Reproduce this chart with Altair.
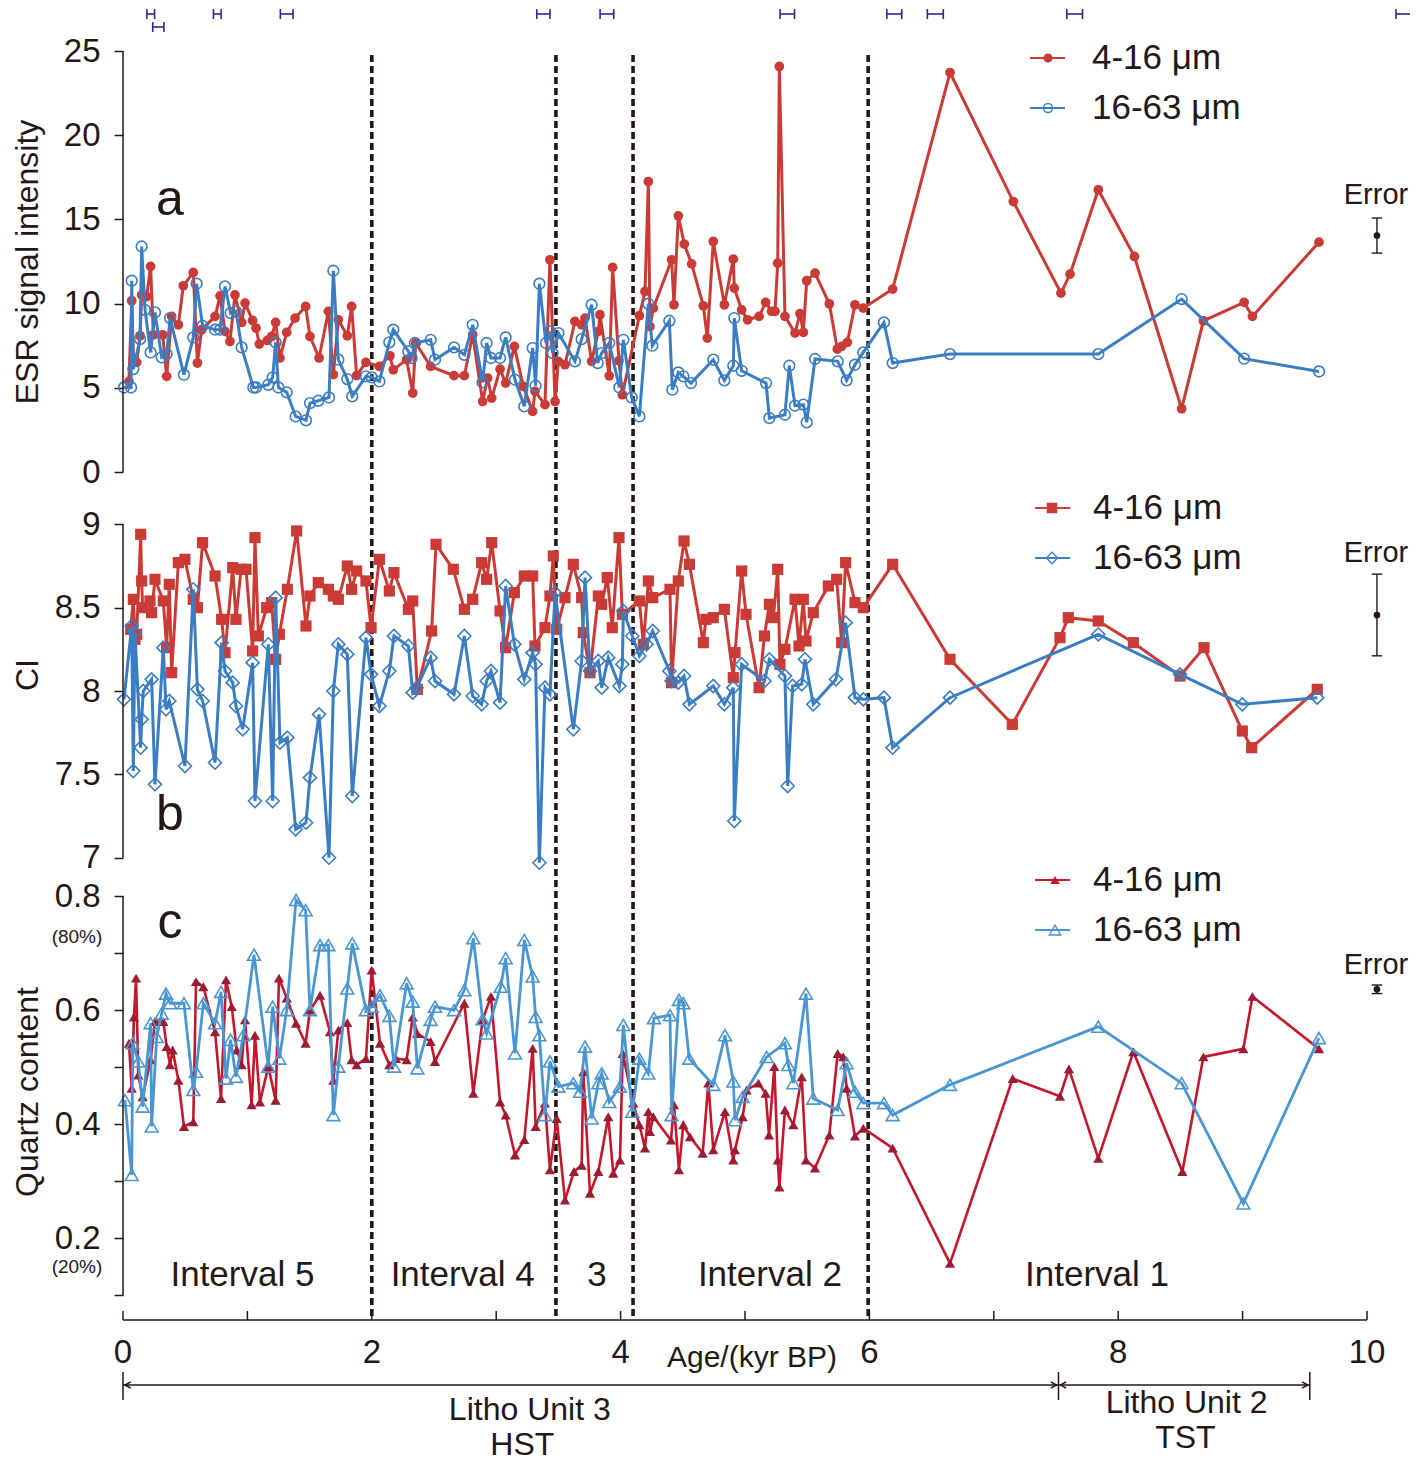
import altair as alt
import pandas as pd

# ---------------- data ----------------
# (a) ESR signal intensity
esr_fine_age = [0.048, 0.070, 0.083, 0.110, 0.137, 0.150, 0.190, 0.222, 0.244, 0.319,
                0.351, 0.391, 0.445, 0.485, 0.565, 0.598, 0.632, 0.740, 0.780, 0.820,
                0.860, 0.900, 0.954, 0.981, 1.042, 1.069, 1.096, 1.160, 1.195, 1.227,
                1.262, 1.316, 1.383, 1.468, 1.503, 1.576, 1.651, 1.691, 1.731, 1.803,
                1.838, 1.878, 1.953, 2.061, 2.146, 2.173, 2.280, 2.329, 2.353, 2.473,
                2.661, 2.744, 2.811, 2.891, 2.931, 2.964, 3.031, 3.076, 3.146, 3.218,
                3.293, 3.312, 3.392, 3.432, 3.473, 3.500, 3.553, 3.633, 3.687, 3.714,
                3.767, 3.821, 3.834, 3.909, 3.936, 3.987, 4.014, 4.151, 4.196, 4.223,
                4.236, 4.263, 4.410, 4.429, 4.464, 4.512, 4.571, 4.665, 4.697, 4.745,
                4.834, 4.906, 4.914, 4.973, 5.021, 5.113, 5.166, 5.214, 5.241, 5.263,
                5.276, 5.321, 5.402, 5.442, 5.469, 5.496, 5.563, 5.678, 5.742, 5.777,
                5.823, 5.884, 5.951, 6.187, 6.648, 7.157, 7.540, 7.613, 7.840, 8.130,
                8.510, 8.685, 9.012, 9.079, 9.614]
esr_fine_val = [5.38, 10.17, 6.76, 6.51, 8.09, 10.52, 10.42, 12.21, 8.15, 8.15,
                5.68, 9.24, 8.74, 11.06, 11.85, 6.47, 8.45, 9.24, 10.46, 8.35,
                7.75, 10.52, 8.88, 10.03, 9.00, 8.55, 7.60, 7.81, 8.05, 8.88,
                6.77, 8.29, 9.14, 9.83, 8.05, 6.77, 9.54, 5.78, 9.04, 8.09,
                9.83, 5.72, 6.51, 6.27, 6.90, 6.07, 6.67, 4.69, 7.66, 6.27,
                5.72, 5.72, 8.15, 4.19, 5.58, 4.39, 6.11, 5.28, 7.46, 5.08,
                3.60, 4.79, 4.00, 12.60, 4.19, 6.57, 6.37, 8.94, 8.74, 9.14,
                6.57, 8.35, 9.34, 5.71, 12.15, 6.61, 4.59, 9.28, 10.72, 17.25,
                8.64, 9.73, 12.60, 9.93, 15.21, 13.53, 12.36, 9.87, 7.95, 13.69,
                9.93, 12.64, 10.92, 9.63, 9.04, 9.24, 10.07, 9.54, 9.54, 12.40,
                24.08, 9.24, 8.25, 9.40, 8.29, 11.36, 11.81, 9.99, 7.30, 7.46,
                7.70, 9.93, 9.73, 10.86, 23.72, 16.06, 10.62, 11.75, 16.76, 12.80,
                3.76, 8.98, 10.07, 9.24, 13.65]
esr_coarse_age = [0.008, 0.065, 0.070, 0.083, 0.137, 0.150, 0.177, 0.222, 0.257, 0.311,
                  0.351, 0.378, 0.490, 0.565, 0.592, 0.640, 0.740, 0.780, 0.820, 0.865,
                  0.908, 0.954, 1.048, 1.069, 1.168, 1.203, 1.227, 1.249, 1.316, 1.388,
                  1.471, 1.503, 1.570, 1.656, 1.691, 1.731, 1.803, 1.843, 1.953, 1.999,
                  2.061, 2.141, 2.173, 2.294, 2.320, 2.347, 2.473, 2.508, 2.661, 2.744,
                  2.811, 2.891, 2.923, 2.958, 3.031, 3.076, 3.151, 3.226, 3.293, 3.317,
                  3.347, 3.400, 3.432, 3.454, 3.500, 3.633, 3.687, 3.767, 3.816, 3.848,
                  3.909, 3.990, 4.022, 4.089, 4.151, 4.223, 4.255, 4.392, 4.416, 4.464,
                  4.504, 4.566, 4.745, 4.834, 4.906, 4.914, 4.973, 5.169, 5.196, 5.321,
                  5.356, 5.402, 5.469, 5.496, 5.563, 5.745, 5.817, 5.884, 5.951, 6.117,
                  6.187, 6.648, 7.840, 8.510, 9.012, 9.614]
esr_coarse_val = [5.02, 5.02, 11.36, 6.11, 7.89, 13.39, 9.63, 7.10, 9.48, 6.81,
                  7.00, 9.14, 5.78, 7.99, 11.18, 8.68, 8.45, 8.45, 11.02, 9.44,
                  9.54, 7.40, 5.02, 5.02, 5.18, 5.62, 7.70, 5.02, 4.73, 3.30,
                  3.07, 4.09, 4.23, 4.43, 11.95, 6.67, 5.52, 4.49, 5.68, 5.62,
                  5.38, 7.70, 8.45, 7.16, 6.77, 7.66, 7.85, 6.67, 7.40, 6.96,
                  8.74, 5.32, 7.66, 6.77, 6.77, 7.99, 5.48, 3.90, 7.36, 5.12,
                  11.18, 7.66, 8.35, 7.06, 8.25, 6.57, 7.89, 9.93, 6.47, 7.06,
                  7.66, 5.02, 7.85, 4.43, 3.30, 9.99, 7.50, 8.98, 4.89, 5.91,
                  5.68, 5.28, 6.67, 5.44, 6.31, 9.14, 6.01, 5.28, 3.20, 3.40,
                  6.31, 3.94, 4.00, 2.95, 6.71, 6.57, 5.44, 6.37, 7.10, 8.88,
                  6.47, 7.00, 7.00, 10.27, 6.73, 5.97]

# (b) crystallinity index
ci_fine_age = [0.062, 0.083, 0.096, 0.110, 0.142, 0.150, 0.158, 0.217, 0.230, 0.257,
               0.324, 0.351, 0.372, 0.391, 0.445, 0.498, 0.565, 0.598, 0.640, 0.740,
               0.793, 0.820, 0.882, 0.908, 0.949, 0.989, 1.042, 1.061, 1.088, 1.155,
               1.195, 1.227, 1.257, 1.321, 1.396, 1.471, 1.503, 1.570, 1.651, 1.691,
               1.731, 1.803, 1.838, 1.878, 1.953, 1.994, 2.061, 2.141, 2.178, 2.294,
               2.329, 2.366, 2.481, 2.516, 2.655, 2.744, 2.811, 2.883, 2.923, 2.964,
               3.031, 3.076, 3.146, 3.226, 3.293, 3.312, 3.392, 3.432, 3.459, 3.486,
               3.553, 3.620, 3.687, 3.700, 3.754, 3.821, 3.848, 3.893, 3.933, 3.987,
               4.014, 4.151, 4.183, 4.223, 4.258, 4.397, 4.410, 4.464, 4.510, 4.553,
               4.665, 4.686, 4.745, 4.834, 4.906, 4.920, 4.973, 5.008, 5.113, 5.156,
               5.196, 5.228, 5.263, 5.281, 5.321, 5.402, 5.434, 5.469, 5.490, 5.549,
               5.670, 5.737, 5.777, 5.809, 5.884, 5.951, 6.187, 6.648, 7.149, 7.532,
               7.599, 7.840, 8.122, 8.497, 8.690, 8.998, 9.073, 9.600]
ci_fine_val = [8.37, 8.55, 8.31, 8.34, 8.94, 8.66, 8.50, 8.54, 8.47, 8.67,
               8.54, 8.26, 8.64, 8.11, 8.77, 8.79, 8.55, 8.50, 8.89, 8.69,
               8.43, 8.23, 8.74, 8.43, 8.73, 8.73, 8.24, 8.92, 8.33, 8.50,
               8.53, 8.19, 8.34, 8.61, 8.96, 8.39, 8.57, 8.65, 8.61, 8.57,
               8.55, 8.75, 8.61, 8.72, 8.66, 8.38, 8.79, 8.60, 8.71, 8.49,
               8.54, 8.01, 8.36, 8.88, 8.73, 8.49, 8.55, 8.77, 8.67, 8.89,
               8.48, 8.26, 8.59, 8.69, 8.69, 8.27, 8.38, 8.57, 8.81, 8.37,
               8.56, 8.76, 8.56, 8.35, 8.11, 8.57, 8.52, 8.68, 8.38, 8.92,
               8.46, 8.54, 8.28, 8.66, 8.56, 8.61, 8.05, 8.66, 8.90, 8.76,
               8.29, 8.43, 8.44, 8.49, 8.08, 8.23, 8.72, 8.46, 8.02, 8.33,
               8.52, 8.44, 8.73, 8.16, 8.25, 8.55, 8.27, 8.55, 8.30, 8.47,
               8.63, 8.67, 8.29, 8.77, 8.53, 8.50, 8.76, 8.19, 7.80, 8.32,
               8.44, 8.42, 8.29, 8.09, 8.26, 7.76, 7.66, 8.01]
ci_coarse_age = [0.008, 0.070, 0.083, 0.096, 0.142, 0.150, 0.163, 0.230, 0.257, 0.324,
                 0.346, 0.372, 0.498, 0.565, 0.598, 0.640, 0.740, 0.793, 0.820, 0.882,
                 0.908, 0.962, 1.042, 1.061, 1.168, 1.203, 1.227, 1.262, 1.321, 1.388,
                 1.471, 1.503, 1.576, 1.656, 1.691, 1.731, 1.803, 1.843, 1.953, 1.994,
                 2.061, 2.141, 2.178, 2.294, 2.329, 2.361, 2.473, 2.508, 2.661, 2.744,
                 2.811, 2.883, 2.923, 2.958, 3.031, 3.076, 3.146, 3.226, 3.293, 3.317,
                 3.347, 3.392, 3.432, 3.473, 3.620, 3.687, 3.714, 3.754, 3.821, 3.848,
                 3.901, 3.990, 4.014, 4.022, 4.094, 4.151, 4.209, 4.258, 4.392, 4.410,
                 4.464, 4.510, 4.553, 4.745, 4.834, 4.906, 4.914, 4.973, 5.156, 5.196,
                 5.321, 5.343, 5.383, 5.456, 5.482, 5.549, 5.731, 5.809, 5.884, 5.951,
                 6.117, 6.187, 6.648, 7.840, 8.497, 8.998, 9.600]
ci_coarse_val = [7.95, 8.39, 7.52, 8.35, 7.66, 7.83, 8.00, 8.07, 7.44, 8.26,
                 7.89, 7.94, 7.55, 8.61, 8.01, 7.94, 7.57, 8.29, 8.12, 8.05,
                 7.91, 7.77, 8.17, 7.34, 8.28, 7.34, 8.56, 7.69, 7.72, 7.17,
                 7.21, 7.48, 7.86, 7.00, 8.00, 8.28, 8.22, 7.37, 8.32, 8.10,
                 7.91, 8.12, 8.33, 8.27, 7.99, 8.02, 8.20, 8.06, 7.98, 8.33,
                 7.97, 7.92, 8.06, 8.12, 7.93, 8.63, 8.28, 8.07, 8.23, 8.16,
                 6.97, 8.02, 7.98, 8.59, 7.77, 8.18, 8.68, 8.12, 8.18, 8.02,
                 8.20, 8.03, 8.16, 8.48, 8.33, 8.21, 8.28, 8.36, 8.12, 8.06,
                 8.05, 8.09, 7.92, 8.03, 7.92, 8.02, 7.22, 8.16, 8.06, 8.19,
                 8.09, 7.43, 8.03, 8.04, 8.19, 7.92, 8.07, 8.41, 7.96, 7.95,
                 7.96, 7.66, 7.96, 8.34, 8.10, 7.92, 7.96]

# (c) quartz content
qz_fine_age = [0.048, 0.070, 0.088, 0.105, 0.123, 0.158, 0.222, 0.257, 0.324, 0.351,
               0.378, 0.399, 0.445, 0.490, 0.565, 0.587, 0.646, 0.740, 0.788, 0.828,
               0.874, 0.914, 0.954, 0.981, 1.034, 1.061, 1.101, 1.168, 1.227, 1.254,
               1.316, 1.391, 1.468, 1.503, 1.584, 1.664, 1.691, 1.731, 1.803, 1.838,
               1.878, 1.953, 1.999, 2.066, 2.141, 2.195, 2.280, 2.329, 2.366, 2.473,
               2.508, 2.744, 2.816, 2.891, 2.958, 3.031, 3.076, 3.151, 3.226, 3.293,
               3.317, 3.392, 3.432, 3.486, 3.553, 3.625, 3.687, 3.700, 3.754, 3.821,
               3.901, 3.941, 3.995, 4.017, 4.102, 4.151, 4.196, 4.223, 4.236, 4.263,
               4.405, 4.429, 4.469, 4.504, 4.558, 4.660, 4.705, 4.745, 4.839, 4.906,
               4.920, 4.981, 5.013, 5.108, 5.166, 5.193, 5.236, 5.263, 5.276, 5.321,
               5.389, 5.456, 5.490, 5.563, 5.678, 5.745, 5.790, 5.817, 5.884, 5.951,
               6.187, 6.648, 7.152, 7.532, 7.604, 7.840, 8.122, 8.516, 8.685, 9.006,
               9.079, 9.614]
qz_fine_val = [0.542, 0.463, 0.588, 0.656, 0.486, 0.448, 0.513, 0.580, 0.580, 0.536,
               0.504, 0.530, 0.477, 0.396, 0.404, 0.650, 0.641, 0.562, 0.445, 0.653,
               0.606, 0.530, 0.504, 0.583, 0.434, 0.556, 0.439, 0.501, 0.442, 0.656,
               0.621, 0.577, 0.542, 0.600, 0.626, 0.562, 0.477, 0.565, 0.578, 0.513,
               0.504, 0.515, 0.670, 0.542, 0.504, 0.515, 0.513, 0.588, 0.559, 0.545,
               0.510, 0.612, 0.454, 0.583, 0.624, 0.439, 0.416, 0.346, 0.373, 0.533,
               0.396, 0.437, 0.320, 0.410, 0.267, 0.317, 0.328, 0.492, 0.279, 0.317,
               0.413, 0.314, 0.337, 0.524, 0.437, 0.399, 0.358, 0.422, 0.387, 0.413,
               0.372, 0.434, 0.320, 0.399, 0.378, 0.349, 0.472, 0.355, 0.422, 0.337,
               0.355, 0.413, 0.460, 0.472, 0.454, 0.381, 0.501, 0.337, 0.290, 0.425,
               0.399, 0.483, 0.337, 0.323, 0.381, 0.524, 0.518, 0.463, 0.379, 0.393,
               0.358, 0.156, 0.480, 0.449, 0.497, 0.340, 0.527, 0.317, 0.518, 0.532,
               0.624, 0.532]
qz_coarse_age = [0.016, 0.070, 0.078, 0.123, 0.158, 0.222, 0.230, 0.271, 0.311, 0.346,
                 0.378, 0.490, 0.565, 0.587, 0.646, 0.740, 0.788, 0.828, 0.865, 0.908,
                 0.967, 1.053, 1.168, 1.203, 1.257, 1.316, 1.391, 1.468, 1.503, 1.584,
                 1.651, 1.691, 1.731, 1.803, 1.843, 1.953, 1.999, 2.066, 2.141, 2.178,
                 2.280, 2.329, 2.366, 2.473, 2.508, 2.661, 2.744, 2.816, 2.891, 2.923,
                 3.036, 3.076, 3.151, 3.226, 3.293, 3.317, 3.347, 3.392, 3.432, 3.500,
                 3.620, 3.674, 3.714, 3.767, 3.821, 3.848, 3.909, 3.995, 4.022, 4.094,
                 4.151, 4.223, 4.268, 4.397, 4.410, 4.469, 4.504, 4.552, 4.745, 4.839,
                 4.906, 4.920, 4.981, 5.174, 5.321, 5.348, 5.389, 5.490, 5.549, 5.745,
                 5.817, 5.884, 5.951, 6.117, 6.187, 6.648, 7.840, 8.510, 9.006, 9.614]
qz_coarse_val = [0.442, 0.311, 0.542, 0.510, 0.431, 0.577, 0.396, 0.553, 0.594, 0.629,
                 0.612, 0.612, 0.460, 0.492, 0.612, 0.577, 0.632, 0.480, 0.548, 0.483,
                 0.556, 0.697, 0.501, 0.606, 0.515, 0.600, 0.793, 0.775, 0.600, 0.714,
                 0.714, 0.416, 0.501, 0.638, 0.717, 0.600, 0.606, 0.626, 0.590, 0.501,
                 0.647, 0.615, 0.498, 0.583, 0.606, 0.600, 0.635, 0.726, 0.584, 0.559,
                 0.641, 0.691, 0.524, 0.723, 0.659, 0.588, 0.556, 0.416, 0.510, 0.466,
                 0.472, 0.457, 0.536, 0.410, 0.472, 0.489, 0.439, 0.466, 0.574, 0.422,
                 0.515, 0.489, 0.586, 0.591, 0.416, 0.618, 0.612, 0.515, 0.469, 0.556,
                 0.475, 0.407, 0.448, 0.518, 0.542, 0.504, 0.472, 0.629, 0.445, 0.425,
                 0.507, 0.457, 0.437, 0.437, 0.416, 0.469, 0.571, 0.472, 0.261, 0.551]

# analytical errors (center, half-range) shown at the right
err_esr = [14.04, 1.04]
err_ci = [8.456, 0.245]
err_qz = [0.6365, 0.0075]
err_age = 10.08

# dated horizons (age, half-range, row) along the top
date_age = [0.223, 0.284, 0.758, 1.316, 3.379, 3.890, 5.340, 6.200, 6.530, 7.650, 10.300]
date_err = [0.031, 0.045, 0.031, 0.051, 0.053, 0.055, 0.058, 0.060, 0.064, 0.063, 0.067]
date_row = [0, 1, 0, 0, 0, 0, 0, 0, 0, 0, 0]

# interval boundaries and labels
boundaries = [2.0, 3.48, 4.10, 5.99]
interval_text = ["Interval 5", "Interval 4", "3", "Interval 2", "Interval 1"]
interval_pos = [0.96, 2.73, 3.81, 5.20, 7.83]

# lithologic units
litho_bounds = [0.0, 7.52, 9.54]
litho_text = ["Litho Unit 3", "HST", "Litho Unit 2", "TST"]
litho_pos = [3.27, 3.21, 8.55, 8.54]
x_label_values = [0, 2, 4, 6, 8, 10]
x_tick_values = [0, 1, 2, 3, 4, 5, 6, 7, 8, 9, 10]

# ---------------- styling / layout ----------------
FONT = "Liberation Sans, Arial, Helvetica, sans-serif"
DARK = "#231815"
RED = "#cb3b36"
BLUE = "#3b7dc3"
RED_C = "#c4172c"
RED_C_MARK = "#9c1c34"
BLUE_C = "#4a96d3"
NAVY = "#272b8a"

W, H = 1244, 1269


def ydomain(v_top, p_top, v_bot, p_bot):
    k = (v_top - v_bot) / (p_bot - p_top)
    return [v_bot - (H - p_bot) * k, v_top + p_top * k]


DOM_A = ydomain(25, 0, 0, 421)
DOM_B = ydomain(9, 473.3, 7, 806.7)
DOM_C = ydomain(0.8, 845, 0.2, 1187.3)

XS = alt.Scale(domain=[0, 10], nice=False, zero=False)
one = pd.DataFrame({"k": [0]})


def xenc(field="age"):
    return alt.X(f"{field}:Q", scale=XS, axis=None)


def yenc(field, dom, axis=None):
    return alt.Y(f"{field}:Q", scale=alt.Scale(domain=dom, nice=False, zero=False), axis=axis)


AX = dict(orient="left", domain=False, grid=False, ticks=True, tickSize=9, tickWidth=1.5,
          tickColor=DARK, labelFont=FONT, labelFontSize=33, labelColor=DARK,
          labelPadding=14, labelOverlap=False, title=None)
axis_a = alt.Axis(values=[0, 5, 10, 15, 20, 25], **AX)
axis_b = alt.Axis(values=[7, 7.5, 8, 8.5, 9], labelExpr="'' + datum.value", **AX)
axis_c = alt.Axis(values=[0.1, 0.2, 0.3, 0.4, 0.5, 0.6, 0.7, 0.8],
                  labelExpr="(datum.value > 0.15 && round(datum.value * 10) % 2 == 0) ? format(datum.value, '.1f') : ''",
                  **AX)

layers = []


def series(age, val, dom, line_color, mark_color, shape, filled, size, sw=3.0, axis=None):
    df = pd.DataFrame({"age": age, "v": val, "i": list(range(len(age)))})
    line = alt.Chart(df).mark_line(color=line_color, strokeWidth=sw).encode(
        x=xenc(), y=yenc("v", dom, axis), order=alt.Order("i:Q"))
    if filled:
        pm = alt.Chart(df).mark_point(shape=shape, filled=True, size=size, color=mark_color,
                                      opacity=1, strokeWidth=0)
    else:
        pm = alt.Chart(df).mark_point(shape=shape, filled=False, size=size, color=mark_color,
                                      opacity=1, strokeWidth=1.6)
    pts = pm.encode(x=xenc(), y=yenc("v", dom))
    return [line, pts]


def vtext(text, x, y, size, align="center", angle=0, color=DARK):
    return alt.Chart(one).mark_text(text=text, font=FONT, fontSize=size, color=color,
                                    baseline="middle", align=align, angle=angle).encode(
        x=alt.value(x), y=alt.value(y))


def vrule(x1, x2, y1, y2, color=DARK, sw=1.5):
    return alt.Chart(one).mark_rule(color=color, strokeWidth=sw).encode(
        x=alt.value(x1), x2=alt.value(x2), y=alt.value(y1), y2=alt.value(y2))


def vpoint(x, y, shape, filled, size, color, sw=1.4):
    if filled:
        m = alt.Chart(one).mark_point(shape=shape, filled=True, size=size, color=color, opacity=1, strokeWidth=0)
    else:
        m = alt.Chart(one).mark_point(shape=shape, filled=False, size=size, color=color, opacity=1, strokeWidth=sw)
    return m.encode(x=alt.value(x), y=alt.value(y))


def spine(lo, hi, dom):
    df = pd.DataFrame({"lo": [lo], "hi": [hi]})
    return alt.Chart(df).mark_rule(color=DARK, strokeWidth=1.5).encode(
        x=alt.value(0), y=yenc("lo", dom), y2="hi:Q")


def errbar(center, half, dom, label_y):
    d = pd.DataFrame({"x": [err_age], "c": [center], "lo": [center - half], "hi": [center + half]})
    caps = pd.DataFrame({"x": [err_age, err_age], "y": [center - half, center + half]})
    out = [
        alt.Chart(d).mark_rule(color=DARK, strokeWidth=1.4).encode(x=xenc("x"), y=yenc("lo", dom), y2="hi:Q"),
        alt.Chart(caps).mark_point(shape="M -1 0 L 1 0", filled=False, size=110, color=DARK,
                                   opacity=1, strokeWidth=1.4).encode(x=xenc("x"), y=yenc("y", dom)),
        alt.Chart(d).mark_point(shape="circle", filled=True, size=45, color=DARK, opacity=1).encode(
            x=xenc("x"), y=yenc("c", dom)),
        vtext("Error", 1253, label_y, 29),
    ]
    return out


# ---- vertical boundaries (dashed) ----
layers.append(alt.Chart(pd.DataFrame({"age": boundaries})).mark_rule(
    color=DARK, strokeWidth=3.6, strokeDash=[7, 4]).encode(x=xenc(), y=alt.value(4), y2=alt.value(H)))

# ---- panel a ----
layers += series(esr_fine_age, esr_fine_val, DOM_A, RED, RED, "circle", True, 95, axis=axis_a)
layers += series(esr_coarse_age, esr_coarse_val, DOM_A, BLUE, BLUE, "circle", False, 115)
layers.append(spine(0, 25, DOM_A))
layers += errbar(err_esr[0], err_esr[1], DOM_A, 144)

# ---- panel b ----
layers += series(ci_fine_age, ci_fine_val, DOM_B, RED, RED, "square", True, 125, axis=axis_b)
layers += series(ci_coarse_age, ci_coarse_val, DOM_B, BLUE, BLUE, "diamond", False, 170)
layers.append(spine(7, 9, DOM_B))
layers += errbar(err_ci[0], err_ci[1], DOM_B, 502)

# ---- panel c ----
layers += series(qz_fine_age, qz_fine_val, DOM_C, RED_C, RED_C_MARK, "triangle-up", True, 105, sw=2.6, axis=axis_c)
layers += series(qz_coarse_age, qz_coarse_val, DOM_C, BLUE_C, BLUE_C, "triangle-up", False, 165, sw=2.8)
layers.append(spine(0.1, 0.8, DOM_C))
layers += errbar(err_qz[0], err_qz[1], DOM_C, 914)

# ---- legends ----
leg = [
    (7, 907, 942, 925, 969, RED, "circle", True, 80, "4-16 μm"),
    (57, 907, 942, 925, 969, BLUE, "circle", False, 80, "16-63 μm"),
    (457, 912, 947, 929, 970, RED, "square", True, 110, "4-16 μm"),
    (507, 912, 947, 929, 970, BLUE, "diamond", False, 130, "16-63 μm"),
    (829, 912, 947, 932, 970, RED_C, "triangle-up", True, 90, "4-16 μm"),
    (879, 912, 947, 932, 970, BLUE_C, "triangle-up", False, 130, "16-63 μm"),
]
for (yy, xa, xb, xm, xt, col, shp, fil, sz, lab) in leg:
    layers.append(vrule(xa, xb, yy, yy, color=col, sw=2.2))
    layers.append(vpoint(xm, yy, shp, fil, sz, col))
    layers.append(vtext(lab, xt, yy, 35, align="left"))

# ---- axis titles and panel letters ----
layers.append(vtext("ESR signal intensity", -95, 211, 32, angle=270))
layers.append(vtext("CI", -95, 624, 32, angle=270))
layers.append(vtext("Quartz content", -95, 1041, 32, angle=270))
layers.append(vtext("(80%)", -46, 886, 19))
layers.append(vtext("(20%)", -46, 1216, 19))
layers.append(vtext("a", 47, 149, 50))
layers.append(vtext("b", 47, 764, 50))
layers.append(vtext("c", 47, 872, 50))

# ---- interval labels ----
layers.append(alt.Chart(pd.DataFrame({"pos": interval_pos, "lab": interval_text})).mark_text(
    font=FONT, fontSize=35, color=DARK, baseline="middle", align="center").encode(
    x=xenc("pos"), y=alt.value(1224), text="lab:N"))

# ---- dated horizons along the top ----
for row, yoff in [(0, -37), (1, -24)]:
    c = [a for a, r in zip(date_age, date_row) if r == row]
    e = [d for d, r in zip(date_err, date_row) if r == row]
    ddf = pd.DataFrame({"c": c, "e": e})
    ddf["lo"] = ddf["c"] - ddf["e"]
    ddf["hi"] = ddf["c"] + ddf["e"]
    layers.append(alt.Chart(ddf).mark_rule(color=NAVY, strokeWidth=1.6).encode(
        x=xenc("lo"), x2="hi:Q", y=alt.value(yoff)))
    for f in ["lo", "hi"]:
        layers.append(alt.Chart(ddf).mark_rule(color=NAVY, strokeWidth=1.6).encode(
            x=xenc(f), y=alt.value(yoff - 5), y2=alt.value(yoff + 5)))

# ---- bottom x axis ----
layers.append(alt.Chart(pd.DataFrame({"a": [0], "b": [10]})).mark_rule(color=DARK, strokeWidth=1.6).encode(
    x=xenc("a"), x2="b:Q", y=alt.value(H)))
layers.append(alt.Chart(pd.DataFrame({"t": x_tick_values})).mark_rule(color=DARK, strokeWidth=1.5).encode(
    x=xenc("t"), y=alt.value(H - 9), y2=alt.value(H)))
layers.append(alt.Chart(pd.DataFrame({"t": x_label_values})).mark_text(
    font=FONT, fontSize=33, color=DARK, baseline="middle", align="center").encode(
    x=xenc("t"), y=alt.value(H + 33), text="t:Q"))
layers.append(vtext("Age/(kyr BP)", 629, H + 38, 30))

# ---- lithologic units ----
layers.append(alt.Chart(pd.DataFrame({"b": litho_bounds})).mark_rule(color=DARK, strokeWidth=1.5).encode(
    x=xenc("b"), y=alt.value(H + 52), y2=alt.value(H + 80)))
arr = pd.DataFrame({"a": litho_bounds[:-1], "b": litho_bounds[1:]})
layers.append(alt.Chart(arr).mark_rule(color=DARK, strokeWidth=1.6).encode(
    x=xenc("a"), x2="b:Q", y=alt.value(H + 65)))
layers.append(alt.Chart(arr).mark_point(shape="M 1.8 -1 L 0 0 L 1.8 1", filled=False, size=40,
                                        color=DARK, opacity=1, strokeWidth=1.6).encode(
    x=xenc("a"), y=alt.value(H + 65), xOffset=alt.value(2)))
layers.append(alt.Chart(arr).mark_point(shape="M -1.8 -1 L 0 0 L -1.8 1", filled=False, size=40,
                                        color=DARK, opacity=1, strokeWidth=1.6).encode(
    x=xenc("b"), y=alt.value(H + 65), xOffset=alt.value(-2)))
for lab, pos, yy in zip(litho_text, litho_pos, [H + 90, H + 125, H + 83, H + 118]):
    layers.append(alt.Chart(pd.DataFrame({"pos": [pos], "lab": [lab]})).mark_text(
        font=FONT, fontSize=32, color=DARK, baseline="middle", align="center").encode(
        x=xenc("pos"), y=alt.value(yy), text="lab:N"))

chart = alt.layer(*layers).resolve_scale(y="independent").properties(
    width=W, height=H,
    padding={"left": 115, "top": 43, "right": 43, "bottom": 142},
    autosize=alt.AutoSizeParams(type="none"),
).configure_view(stroke=None)

chart.save("out.html", embed_options={"renderer": "svg", "actions": False})
